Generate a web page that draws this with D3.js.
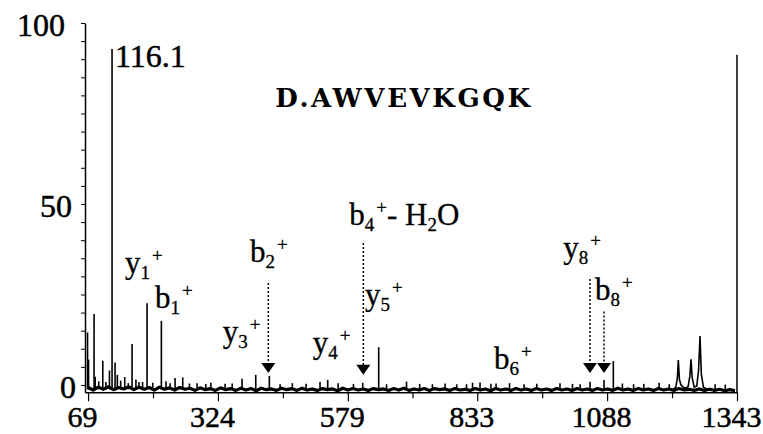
<!DOCTYPE html>
<html>
<head>
<meta charset="utf-8">
<script src="https://cdn.jsdelivr.net/npm/d3@7"></script>
<style>
  body { margin: 0; background: #fff; }
  svg { display: block; }
</style>
</head>
<body>
<div id="chart"></div>
<script>
// stick peaks (m/z, relative intensity)
const peakMz = [68, 70, 80.8, 83, 90, 97.9, 104, 111, 116.1, 122, 126.5, 133, 141, 148, 155.4, 163, 169, 176, 184.8, 196,
    212.9, 222, 230, 239.8, 254.9, 268, 283, 300, 310, 338, 352, 371.3, 398.2, 424.9, 446, 470, 497, 524.4, 539.5, 560,
    590, 608.2, 639.6, 655, 694.2, 720, 745, 770, 792.8, 812, 823.8, 838.5, 860, 870, 896.4, 925, 950, 995.5, 1020, 1035,
    1054.5, 1082, 1100.2, 1118, 1140, 1160, 1190, 1210, 1300, 1320];
const peakInt = [14.5, 7, 19.6, 2.3, 1.0, 6.7, 0.8, 4.0, 92.8, 6.2, 2.8, 1.2, 2.2, 0.5, 11.3, 1.5, 0.8, 0.8, 22.6, 0.6,
    17.7, 1.0, 0.5, 1.9, 2.1, 0.4, 0.5, 0.3, 0.6, 0.3, 0.4, 1.7, 2.8, 2.5, 0.2, 0.5, 0.3, 0.8, 1.4, 0.5,
    0.3, 0.6, 10.4, 0.2, 0.9, 0.3, 0.2, 0.4, 0.2, 0.2, 0.6, 0.7, 0.3, 0.4, 0.5, 0.2, 0.3, 0.5, 0.3, 0.2,
    0.9, 1.4, 6.6, 0.4, 0.2, 0.3, 0.6, 0.2, 0.2, 0.1];

// profile peaks at the high-mass end
const profMz = [1218, 1223, 1226, 1227.8, 1230, 1233, 1240, 1247, 1250.5, 1252.7, 1255, 1259, 1264, 1267.5, 1270.4, 1273, 1277, 1284];
const profInt = [-1.2, -0.6, 2.0, 6.9, 1.5, 0.0, -0.9, -0.5, 2.5, 7.1, 2.0, -0.6, -0.3, 4.0, 13.5, 3.0, -0.6, -1.2];

// baseline noise, one value every 10 m/z from 69
const noiseStart = 69, noiseStep = 10;
const noise = [
    -0.7, -1.4, -0.6, -1.2, -0.5, -1.3, -0.7, -1.1, -0.5, -1.3,
    -0.6, -1.2, -0.7, -1.4, -0.6, -1.2, -0.8, -1.4, -0.7, -1.2,
    -0.9, -1.5, -0.8, -1.3, -1.0, -1.5, -0.8, -1.3, -1.0, -1.5,
    -0.9, -1.4, -1.0, -1.6, -0.9, -1.3, -1.1, -1.5, -0.9, -1.3,
    -1.0, -1.5, -0.9, -1.4, -1.1, -1.5, -1.0, -1.3, -1.1, -1.6,
    -0.9, -1.4, -1.0, -1.4, -1.1, -1.5, -1.0, -1.3, -1.1, -1.5,
    -1.0, -1.4, -0.9, -1.5, -1.1, -1.4, -1.0, -1.5, -1.0, -1.3,
    -1.1, -1.5, -1.0, -1.4, -1.2, -1.5, -1.0, -1.4, -1.1, -1.6,
    -1.0, -1.4, -1.1, -1.5, -1.0, -1.4, -1.1, -1.5, -1.0, -1.4,
    -1.1, -1.5, -1.0, -1.4, -1.1, -1.5, -1.0, -1.4, -1.1, -1.5,
    -1.0, -1.4, -1.1, -1.5, -0.9, -1.4, -1.1, -1.5, -1.0, -1.4,
    -1.1, -1.5, -1.0, -1.4, -1.1, -1.5, -1.0, -1.4, -1.2, -1.5,
    -1.1, -1.5, -1.2, -1.5, -1.2, -1.6, -1.3, -1.6
];
const baseLevel = -1.2;

// ion annotations
const ionText = ["y_1^+", "b_1^+", "y_3^+", "b_2^+", "y_4^+", "b_4^+- H_2O", "y_5^+", "b_6^+", "y_8^+", "b_8^+"];
const ionMz = [141.6, 200.5, 333.4, 387, 510.1, 581.9, 612.8, 866, 1002, 1064.2];
const ionInt = [31.0, 21.3, 12.0, 34.1, 8.8, 44.2, 22.1, 4.4, 35.0, 23.5];

const arrowMz = [422.9, 609.4, 1054.4, 1081.9];
const arrowTop = [28.2, 39.2, 29.3, 20.3];
const arrowTip = [3.3, 2.8, 3.3, 3.3];

const xMajor = [69, 324, 579, 833, 1088, 1343];
const xMinor = [196.5, 451.5, 706, 960.5, 1215.5];
const yTicks = d3.range(0, 101, 5);
const title = "D.AWVEVKGQK";
const topLabel = "116.1";

const W = 763, H = 434;
const serif = "'Liberation Serif', 'DejaVu Serif', serif";
const svg = d3.select("#chart").append("svg").attr("width", W).attr("height", H);

const x = d3.scaleLinear().domain([63, 1343]).range([85, 737]);
const y = d3.scaleLinear().domain([-2, 100]).range([392.2, 23]);

// heavier serif glyphs, closer to the original typeface
function heavy(sel) {
    return sel.attr("stroke", "#000").attr("stroke-width", 0.5).attr("fill", "#000");
}

// noise band
const noisePts = noise.map((v, i) => [noiseStart + i * noiseStep, v]);
svg.append("path")
    .datum(noisePts)
    .attr("fill", "none")
    .attr("stroke", "#000")
    .attr("stroke-width", 3.2)
    .attr("stroke-linejoin", "round")
    .attr("d", d3.line().x(d => x(d[0])).y(d => y(d[1])));

// sticks
svg.append("g").selectAll("line")
    .data(peakMz.map((m, i) => ({ mz: m, v: peakInt[i] })))
    .join("line")
    .attr("x1", d => x(d.mz)).attr("x2", d => x(d.mz))
    .attr("y1", y(baseLevel)).attr("y2", d => y(d.v))
    .attr("stroke", "#000")
    .attr("stroke-width", 1.6);

// profile peaks
svg.append("path")
    .datum(profMz.map((m, i) => [m, profInt[i]]))
    .attr("fill", "none")
    .attr("stroke", "#000")
    .attr("stroke-width", 1.6)
    .attr("d", d3.line().x(d => x(d[0])).y(d => y(d[1])));

// right frame line
svg.append("line")
    .attr("x1", x(1343)).attr("x2", x(1343))
    .attr("y1", y(-2)).attr("y2", y(91.2))
    .attr("stroke", "#000").attr("stroke-width", 1.5);

// x axis
const xAxisG = svg.append("g").attr("transform", `translate(0,${y(-2)})`);
xAxisG.call(d3.axisBottom(x).tickValues(xMajor).tickSize(9).tickSizeOuter(0).tickFormat(d3.format("d")));
xAxisG.append("g").call(d3.axisBottom(x).tickValues(xMinor).tickSize(6).tickSizeOuter(0).tickFormat(""))
    .select(".domain").remove();
xAxisG.select(".domain").attr("stroke-width", 1.5);
xAxisG.selectAll("g.tick line").attr("stroke-width", 1.2);
xAxisG.selectAll("g.tick text")
    .attr("font-family", null)
    .attr("font-size", null)
    .style("font-family", serif)
    .style("font-size", "30px")
    .call(heavy)
    .attr("y", 35).attr("dy", 0).attr("dx", -6);

// y axis
const yLabelShift = { 100: -20, 50: -13, 0: -9 };
const yAxisG = svg.append("g").attr("transform", "translate(85,0)");
yAxisG.call(d3.axisLeft(y).tickValues(yTicks).tickSize(4).tickSizeOuter(0)
    .tickFormat(d => d % 50 === 0 ? d : ""));
yAxisG.select(".domain").attr("stroke-width", 1.5);
yAxisG.selectAll("g.tick text")
    .style("font-family", serif)
    .style("font-size", "32px")
    .call(heavy)
    .attr("x", d => yLabelShift[d] !== undefined ? yLabelShift[d] : -8)
    .attr("dy", "0.4em");

// title and base peak label
svg.append("text")
    .attr("x", 404).attr("y", 107)
    .attr("text-anchor", "middle")
    .style("font-family", "'DejaVu Serif', serif")
    .style("font-weight", "bold")
    .style("font-size", "26px")
    .style("letter-spacing", "2.6px")
    .text(title);

svg.append("text")
    .attr("x", x(122)).attr("y", y(87.9))
    .style("font-family", serif)
    .style("font-size", "32px")
    .call(heavy)
    .text(topLabel);

// arrows
const arrowG = svg.append("g");
arrowMz.forEach((m, i) => {
    const ax = x(m), tip = y(arrowTip[i]);
    arrowG.append("line")
        .attr("x1", ax).attr("x2", ax)
        .attr("y1", y(arrowTop[i])).attr("y2", tip - 9)
        .attr("stroke", "#000").attr("stroke-width", 1.5)
        .attr("stroke-dasharray", "2,2");
    arrowG.append("path")
        .attr("d", `M${ax - 7},${tip - 10}L${ax + 7},${tip - 10}L${ax},${tip}Z`)
        .attr("fill", "#000");
});

// ion labels with sub/superscripts
ionText.forEach((s, i) => {
    const t = svg.append("text")
        .attr("x", x(ionMz[i])).attr("y", y(ionInt[i]))
        .style("font-family", serif)
        .style("font-size", "31px")
        .attr("fill", "#000")
        .attr("stroke", "#000")
        .attr("stroke-width", 0.3);
    let off = 0;
    let k = 0;
    while (k < s.length) {
        let kind = "n", ch;
        if (s[k] === "_" || s[k] === "^") {
            kind = s[k] === "_" ? "sub" : "sup";
            ch = s[k + 1];
            k += 2;
        } else {
            ch = "";
            while (k < s.length && s[k] !== "_" && s[k] !== "^") { ch += s[k]; k++; }
        }
        const target = kind === "sub" ? 6 : kind === "sup" ? -11 : 0;
        t.append("tspan")
            .attr("dy", target - off)
            .attr("dx", kind === "sup" ? 2 : 0)
            .style("font-size", kind === "n" ? "31px" : "19px")
            .style("white-space", "pre")
            .text(ch);
        off = target;
    }
});
</script>
</body>
</html>
